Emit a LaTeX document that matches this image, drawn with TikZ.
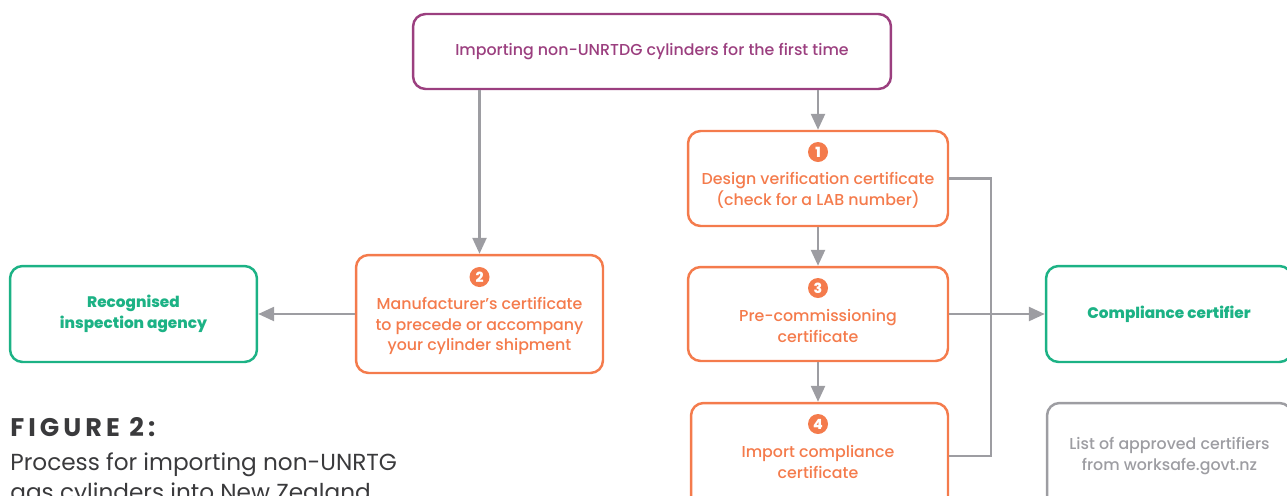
\documentclass[tikz,border=0pt]{standalone}
\usepackage{fontspec}
\setmainfont{Poppins}[UprightFont = * Medium]
\newfontfamily\capfont{Poppins}
\usetikzlibrary{arrows.meta}
\definecolor{mpurple}{HTML}{9B3F7F}
\definecolor{morange}{HTML}{F47B4C}
\definecolor{mgreen}{HTML}{1CB285}
\definecolor{mgray}{HTML}{9D9DA2}
\definecolor{mdark}{HTML}{3A3A3C}
\tikzset{box/.style = {draw = #1, text = #1, rounded corners = 0.25cm, line width = 1.4pt}}
\tikzset{txt/.style = {align = center, font = \fontsize{9}{11.9}\selectfont}}
\tikzset{num/.style = {fill = morange, circle, inner sep = 0, minimum size = 0.4cm,
                       text = white, font = \fontsize{8}{8}\selectfont\bfseries}}
\tikzset{conn/.style = {mgray, line width = 1.4pt}}
\tikzset{arr/.style = {conn, -{Triangle[length = 0.32cm, width = 0.28cm]}}}

\begin{document}
\begin{tikzpicture}[x = 0.02cm, y = -0.02cm]
  \useasboundingbox (0, 0) rectangle (1287, 495);
  % top box
  \node [box = mpurple, txt, minimum width = 9.56cm, minimum height = 1.5cm] (start) at (652, 51.5)
        {Importing non-UNRTDG cylinders for the first time};
  % numbered steps
  \node [box = morange, minimum width = 5.2cm, minimum height = 1.9cm] (dvc) at (818, 178.5) {};
  \node [txt, morange] (dvc-t) at (818, 190) {Design verification certificate\\(check for a LAB number)};
  \node [num] (dvc-n) at (818, 152) {1};
  \node [box = morange, minimum width = 4.94cm, minimum height = 2.36cm] (mfr) at (479.5, 314) {};
  \node [txt, morange] (mfr-t) at (479.5, 326)
        {Manufacturer’s certificate\\to precede or accompany\\your cylinder shipment};
  \node [num] (mfr-n) at (479.5, 277) {2};
  \node [box = morange, minimum width = 5.2cm, minimum height = 1.88cm] (pcc) at (818, 314) {};
  \node [txt, morange] (pcc-t) at (818, 326) {Pre-commissioning\\certificate};
  \node [num] (pcc-n) at (818, 288) {3};
  \node [box = morange, minimum width = 5.14cm, minimum height = 2.12cm] (icc) at (819.5, 456) {};
  \node [txt, morange] (icc-t) at (818, 462) {Import compliance\\certificate};
  \node [num] (icc-n) at (818, 424) {4};
  % other parties
  \node [box = mgreen, txt, font = \fontsize{8.7}{11.9}\selectfont\bfseries,
         minimum width = 4.94cm, minimum height = 1.92cm] (ria)
        at (133.5, 314) {Recognised\\inspection agency};
  \node [box = mgreen, txt, font = \fontsize{8.7}{11.9}\selectfont\bfseries,
         minimum width = 4.92cm, minimum height = 1.92cm] (cc)
        at (1169, 314) {Compliance certifier};
  \node [box = mgray, txt, minimum width = 4.9cm, minimum height = 2.12cm] (lst) at (1169.5, 456)
        {List of approved certifiers\\from worksafe.govt.nz};
  % connectors
  \draw [arr] (start.south -| mfr.north) -- (mfr.north);
  \draw [arr] (start.south -| dvc.north) -- (dvc.north);
  \draw [arr] (dvc) -- (pcc);
  \draw [arr] (pcc.south) -- (pcc.south |- icc.north);
  \draw [arr] (mfr) -- (ria);
  \draw [conn] (dvc.east) -- ++(42, 0) |- (icc.east);
  \draw [arr] (pcc) -- (cc);
  % caption
  \node [anchor = base west, inner sep = 0, mdark,
         font = \capfont\fontsize{14.5}{15}\selectfont\bfseries\addfontfeatures{LetterSpace = 16}] (fig)
        at (10, 436) {FIGURE 2:};
  \node [anchor = base west, inner sep = 0, align = left, mdark,
         font = \capfont\fontsize{13.2}{17}\selectfont] (cap) at (10, 500)
        {Process for importing non-UNRTG\\gas cylinders into New Zealand};
\end{tikzpicture}
\end{document}
